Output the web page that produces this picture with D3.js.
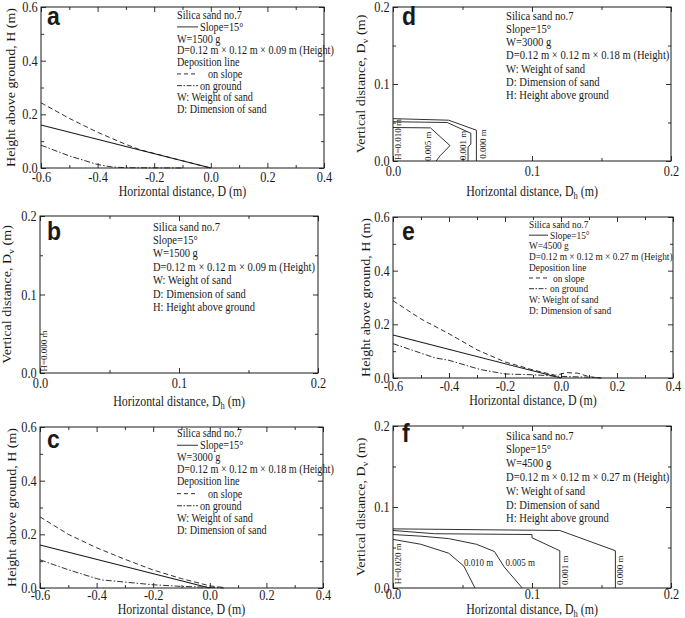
<!DOCTYPE html>
<html><head><meta charset="utf-8">
<script src="https://cdn.jsdelivr.net/npm/d3@7"></script>
<style>html,body{margin:0;padding:0;background:#fff;} svg{display:block;}</style>
</head><body>
<svg id="chart" width="685" height="618"></svg>
<script>
// ---------- tick values / labels ----------
const hXTicks = [-0.6, -0.4, -0.2, 0.0, 0.2, 0.4];
const hXTickLabels = ["-0.6", "-0.4", "-0.2", "0.0", "0.2", "0.4"];
const hXMinor = [-0.5, -0.3, -0.1, 0.1, 0.3];
const hYTicks = [0.0, 0.2, 0.4, 0.6];
const hYTickLabels = ["0.0", "0.2", "0.4", "0.6"];
const hYMinor = [0.1, 0.3, 0.5];
const dTicks = [0.0, 0.1, 0.2];
const dTickLabels = ["0.0", "0.1", "0.2"];
const dMinor = [0.05, 0.15];

// ---------- panels a, c, e: deposition lines ----------
const slopeLine = [[-0.6, 0.16], [0.0, 0.0]];
const aOnSlope = [[-0.6, 0.243], [-0.5, 0.185], [-0.4, 0.133], [-0.3, 0.088], [-0.25, 0.068], [-0.1, 0.027], [0.0, 0.0]];
const aOnGround = [[-0.6, 0.085], [-0.5, 0.045], [-0.4, 0.013], [-0.35, 0.004], [-0.3, 0.001], [-0.1, 0.0]];
const cOnSlope = [[-0.6, 0.265], [-0.5, 0.2], [-0.4, 0.15], [-0.3, 0.107], [-0.2, 0.067], [-0.1, 0.035], [0.0, 0.008], [0.05, 0.002]];
const cOnGround = [[-0.6, 0.105], [-0.5, 0.068], [-0.4, 0.035], [-0.38, 0.03], [-0.3, 0.022], [-0.2, 0.012], [-0.1, 0.006], [0.0, 0.003], [0.05, 0.0]];
const eOnSlope = [[-0.6, 0.288], [-0.5, 0.22], [-0.4, 0.165], [-0.3, 0.105], [-0.2, 0.06], [-0.1, 0.03], [-0.02, 0.01], [0.02, 0.02], [0.06, 0.018], [0.1, 0.005], [0.14, 0.0]];
const eOnGround = [[-0.6, 0.128], [-0.45, 0.075], [-0.4, 0.066], [-0.3, 0.035], [-0.28, 0.03], [-0.2, 0.015], [-0.1, 0.012], [0.0, 0.006], [0.1, 0.003], [0.15, 0.0]];

// ---------- panels b, d, f: contour lines (Dh, Dv) ----------
const bLabels = [{t: "H=0.000 m", x: 0.003, y: 0.028, v: true}];
const dContours = [
  [[0, 0.055], [0.04, 0.053], [0.06, 0.04], [0.06, 0]],
  [[0, 0.051], [0.039, 0.05], [0.056, 0.036], [0.056, 0.022], [0.054, 0.018], [0.054, 0]],
  [[0, 0.0435], [0.027, 0.043], [0.041, 0.02], [0.034, 0.007], [0.031, 0]]
];
const dLabels = [
  {t: "H=0.010 m", x: 0.0035, y: 0.028, v: true},
  {t: "0.005 m", x: 0.025, y: 0.019, v: true},
  {t: "0.001 m", x: 0.0505, y: 0.02, v: true},
  {t: "0.000 m", x: 0.0645, y: 0.022, v: true}
];
const fContours = [
  [[0, 0.073], [0.12, 0.071], [0.16, 0.046], [0.16, 0]],
  [[0, 0.071], [0.03, 0.067], [0.1, 0.066], [0.1, 0.062], [0.12, 0.046], [0.12, 0]],
  [[0, 0.066], [0.02, 0.064], [0.04, 0.061], [0.06, 0.054], [0.073, 0.045], [0.08, 0.026], [0.093, 0]],
  [[0, 0.06], [0.02, 0.054], [0.04, 0.043], [0.051, 0.027], [0.059, 0]]
];
const fLabels = [
  {t: "H=0.020 m", x: 0.0035, y: 0.03, v: true},
  {t: "0.010 m", x: 0.051, y: 0.031, v: false},
  {t: "0.005 m", x: 0.081, y: 0.031, v: false},
  {t: "0.001 m", x: 0.1235, y: 0.022, v: true},
  {t: "0.000 m", x: 0.1635, y: 0.022, v: true}
];

// ---------- legend texts ----------
const legendA = ["Silica sand no.7", "Slope=15°", "W=1500 g", "D=0.12 m × 0.12 m × 0.09 m (Height)", "Deposition line", "on slope", "on ground", "W: Weight of sand", "D: Dimension of sand"];
const legendC = ["Silica sand no.7", "Slope=15°", "W=3000 g", "D=0.12 m × 0.12 m × 0.18 m (Height)", "Deposition line", "on slope", "on ground", "W: Weight of sand", "D: Dimension of sand"];
const legendE = ["Silica sand no.7", "Slope=15°", "W=4500 g", "D=0.12 m × 0.12 m × 0.27 m (Height)", "Deposition line", "on slope", "on ground", "W: Weight of sand", "D: Dimension of sand"];
const legendB = ["Silica sand no.7", "Slope=15°", "W=1500 g", "D=0.12 m × 0.12 m × 0.09 m (Height)", "W: Weight of sand", "D: Dimension of sand", "H: Height above ground"];
const legendD = ["Silica sand no.7", "Slope=15°", "W=3000 g", "D=0.12 m × 0.12 m × 0.18 m (Height)", "W: Weight of sand", "D: Dimension of sand", "H: Height above ground"];
const legendF = ["Silica sand no.7", "Slope=15°", "W=4500 g", "D=0.12 m × 0.12 m × 0.27 m (Height)", "W: Weight of sand", "D: Dimension of sand", "H: Height above ground"];

// ---------- drawing ----------
const SERIF = "'Liberation Serif','Times New Roman',serif";
const SANS = "'Liberation Sans',Arial,sans-serif";
const SX = 0.85;
const INK = "#1a1a1a";
const DASH = "5,3";
const DASHDOT = "6,2,1.5,2";

const svg = d3.select("#chart");
svg.append("rect").attr("width", 685).attr("height", 618).attr("fill", "#fff");

function txt(parent, x, y, content, o = {}) {
  const sx = o.sx || SX;
  const t = parent.append("text")
    .attr("transform", o.rotate ? `translate(${x},${y}) rotate(-90) scale(1,${sx})` : `translate(${x},${y}) scale(${sx},1)`)
    .attr("font-size", o.size || 14)
    .attr("font-family", o.family || SERIF)
    .attr("font-weight", o.weight || "normal")
    .attr("text-anchor", o.anchor || "start")
    .attr("fill", INK);
  if (o.baseline) t.attr("dominant-baseline", o.baseline);
  if (typeof content === "function") content(t); else t.text(content);
  return t;
}

function withSub(main, sub, tail) {
  return t => {
    t.append("tspan").text(main);
    t.append("tspan").attr("dy", 3).attr("font-size", 10).text(sub);
    t.append("tspan").attr("dy", -3).text(tail);
  };
}

function axes(g, L, x, y, xt, xl, xm, yt, yl, ym, pad) {
  const style = sel => {
    sel.select(".domain").remove();
    sel.attr("color", INK);
    sel.selectAll("line").attr("stroke-width", 0.9);
    sel.selectAll("text").attr("font-family", SERIF).attr("font-size", 14.5).attr("fill", INK)
      .attr("transform", `scale(${SX},1)`);
  };
  g.append("g").attr("transform", `translate(0,${L.y1})`)
    .call(d3.axisBottom(x).tickValues(xt).tickSize(-5).tickPadding(pad).tickFormat((d, i) => xl[i])).call(style);
  g.append("g").attr("transform", `translate(0,${L.y1})`)
    .call(d3.axisBottom(x).tickValues(xm).tickSize(-3).tickFormat("")).call(style);
  g.append("g").attr("transform", `translate(0,${L.y0})`)
    .call(d3.axisTop(x).tickValues(xt).tickSize(-5).tickFormat("")).call(style);
  g.append("g").attr("transform", `translate(0,${L.y0})`)
    .call(d3.axisTop(x).tickValues(xm).tickSize(-3).tickFormat("")).call(style);
  g.append("g").attr("transform", `translate(${L.x0},0)`)
    .call(d3.axisLeft(y).tickValues(yt).tickSize(-5).tickPadding(4).tickFormat((d, i) => yl[i])).call(style);
  g.append("g").attr("transform", `translate(${L.x0},0)`)
    .call(d3.axisLeft(y).tickValues(ym).tickSize(-3).tickFormat("")).call(style);
  g.append("g").attr("transform", `translate(${L.x1},0)`)
    .call(d3.axisRight(y).tickValues(yt).tickSize(-5).tickFormat("")).call(style);
  g.append("g").attr("transform", `translate(${L.x1},0)`)
    .call(d3.axisRight(y).tickValues(ym).tickSize(-3).tickFormat("")).call(style);
  g.append("rect").attr("x", L.x0).attr("y", L.y0).attr("width", L.x1 - L.x0).attr("height", L.y1 - L.y0)
    .attr("fill", "none").attr("stroke", INK).attr("stroke-width", 1);
}

function hPanel(P) {
  const L = P.L;
  const g = svg.append("g");
  const x = d3.scaleLinear().domain([-0.6, 0.4]).range([L.x0, L.x1]);
  const y = d3.scaleLinear().domain([0, 0.6]).range([L.y1, L.y0]);
  const line = d3.line().x(d => x(d[0])).y(d => y(d[1]));
  g.append("path").datum(slopeLine).attr("d", line).attr("fill", "none").attr("stroke", INK).attr("stroke-width", 1.1);
  g.append("path").datum(P.onSlope).attr("d", line).attr("fill", "none").attr("stroke", INK).attr("stroke-width", 0.9).attr("stroke-dasharray", DASH);
  g.append("path").datum(P.onGround).attr("d", line).attr("fill", "none").attr("stroke", INK).attr("stroke-width", 0.9).attr("stroke-dasharray", DASHDOT);
  axes(g, L, x, y, hXTicks, hXTickLabels, hXMinor, hYTicks, hYTickLabels, hYMinor, P.pad);
  txt(g, (L.x0 + L.x1) / 2, P.xTitleY, "Horizontal distance, D (m)", {anchor: "middle", size: 14});
  txt(g, P.yTitleX, (L.y0 + L.y1) / 2, "Height above ground, H (m)", {anchor: "middle", size: 14, rotate: true});
  txt(g, P.letter[0], P.letter[1], P.name, {family: SANS, weight: "bold", size: 25, sx: 0.92});
  const lg = P.lg;
  P.legend.forEach((s, i) => {
    const yy = lg.y + i * lg.dy;
    let xx = lg.x;
    if (i === 1 || i === 5 || i === 6) {
      const ly = yy - lg.fs * 0.32;
      g.append("line").attr("x1", lg.x).attr("x2", lg.x + lg.key).attr("y1", ly).attr("y2", ly)
        .attr("stroke", INK).attr("stroke-width", 0.9)
        .attr("stroke-dasharray", i === 5 ? "4,3" : i === 6 ? "5,1.5,1.5,1.5" : null);
      xx = lg.x + (i === 5 ? lg.offDash : lg.off);
    }
    txt(g, xx, yy, s, {size: lg.fs});
  });
}

function dPanel(P) {
  const L = P.L;
  const g = svg.append("g");
  const x = d3.scaleLinear().domain([0, 0.2]).range([L.x0, L.x1]);
  const y = d3.scaleLinear().domain([0, 0.2]).range([L.y1, L.y0]);
  const line = d3.line().x(d => x(d[0])).y(d => y(d[1]));
  P.contours.forEach(c => g.append("path").datum(c).attr("d", line).attr("fill", "none").attr("stroke", INK).attr("stroke-width", 0.9));
  P.labels.forEach(l => {
    if (l.v) txt(g, x(l.x), y(l.y), l.t, {size: 9, rotate: true, anchor: "middle", baseline: "central", sx: 1});
    else txt(g, x(l.x), y(l.y), l.t, {size: 10, baseline: "central", sx: 0.9});
  });
  axes(g, L, x, y, dTicks, dTickLabels, dMinor, dTicks, dTickLabels, dMinor, P.pad);
  txt(g, (L.x0 + L.x1) / 2, P.xTitleY, withSub("Horizontal distance, D", "h", " (m)"), {anchor: "middle", size: 14});
  txt(g, P.yTitleX, (L.y0 + L.y1) / 2, withSub("Vertical distance, D", "v", " (m)"), {anchor: "middle", size: 14, rotate: true});
  txt(g, P.letter[0], P.letter[1], P.name, {family: SANS, weight: "bold", size: 25, sx: 0.92});
  const lg = P.lg;
  P.legend.forEach((s, i) => txt(g, lg.x, lg.y + i * lg.dy, s, {size: lg.fs}));
}

hPanel({name: "a", L: {x0: 41, x1: 324, y0: 7, y1: 168}, onSlope: aOnSlope, onGround: aOnGround, legend: legendA, pad: 4,
  xTitleY: 196, yTitleX: 15, letter: [47, 25], lg: {x: 177, y: 19, dy: 11.75, fs: 12, key: 21, off: 23, offDash: 31}});
hPanel({name: "c", L: {x0: 40, x1: 323, y0: 427, y1: 588}, onSlope: cOnSlope, onGround: cOnGround, legend: legendC, pad: 2,
  xTitleY: 614, yTitleX: 16, letter: [47, 448], lg: {x: 177, y: 437, dy: 12.1, fs: 12, key: 21, off: 23, offDash: 31}});
hPanel({name: "e", L: {x0: 393, x1: 673, y0: 217, y1: 378}, onSlope: eOnSlope, onGround: eOnGround, legend: legendE, pad: 3,
  xTitleY: 405, yTitleX: 370, letter: [402, 240], lg: {x: 529, y: 228, dy: 10.7, fs: 11, key: 19, off: 21, offDash: 24}});
dPanel({name: "b", L: {x0: 40, x1: 318, y0: 216, y1: 373}, contours: [], labels: bLabels, legend: legendB, pad: 5,
  xTitleY: 406, yTitleX: 11, letter: [47, 240], lg: {x: 153, y: 230.5, dy: 13.4, fs: 12.4}});
dPanel({name: "d", L: {x0: 393, x1: 671, y0: 7, y1: 161}, contours: dContours, labels: dLabels, legend: legendD, pad: 5,
  xTitleY: 196, yTitleX: 365, letter: [402, 25], lg: {x: 506, y: 19.5, dy: 13.3, fs: 12.5}});
dPanel({name: "f", L: {x0: 393, x1: 671, y0: 426, y1: 588}, contours: fContours, labels: fLabels, legend: legendF, pad: 1,
  xTitleY: 614, yTitleX: 365, letter: [402, 442], lg: {x: 506, y: 439.5, dy: 13.8, fs: 12.5}});
</script>
</body></html>
